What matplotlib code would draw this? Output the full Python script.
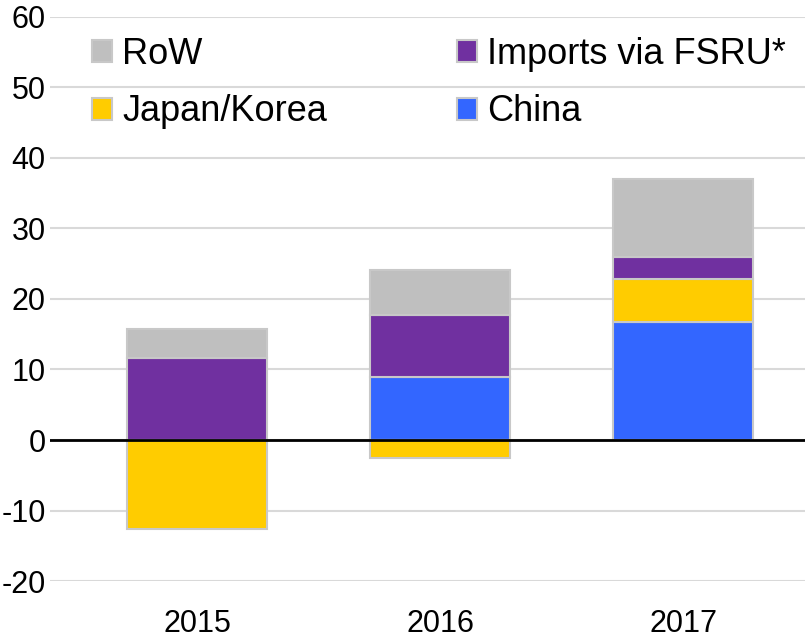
import matplotlib.pyplot as plt
import numpy as np
from matplotlib.patches import Patch

# -----------------------------------------------------------------------------
# Data
# -----------------------------------------------------------------------------

YEARS = ["2015", "2016", "2017"]

china = [0.0, 8.9, 16.7]
japan_korea = [-12.6, -2.6, 6.2]
fsru = [11.7, 8.8, 3.1]
row = [4.0, 6.4, 11.0]

SERIES = [
    ("China", china, "#3366FF"),
    ("Japan/Korea", japan_korea, "#FFCC00"),
    ("Imports via FSRU*", fsru, "#7030A0"),
    ("RoW", row, "#BFBFBF"),
]

EDGE = "#C8C8C8"
TICK_SIZE = 22
LEGEND_SIZE = 26

plt.rcParams["axes.unicode_minus"] = False
plt.rcParams["font.family"] = ["Liberation Sans", "DejaVu Sans"]

# -----------------------------------------------------------------------------
# Plot
# -----------------------------------------------------------------------------

fig = plt.figure(figsize=(8.05, 6.43), dpi=100)
ax = fig.add_axes([0.062, 0.0964, 0.938, 0.8772])

x = np.arange(len(YEARS))
pos_bottom = np.zeros(len(YEARS))
neg_bottom = np.zeros(len(YEARS))

for name, values, color in SERIES:
    values = np.array(values)
    bottoms = np.where(values >= 0, pos_bottom, neg_bottom)
    ax.bar(
        x,
        values,
        width=0.576,
        bottom=bottoms,
        color=color,
        edgecolor=EDGE,
        linewidth=1.5,
        zorder=2,
    )
    pos_bottom = pos_bottom + np.clip(values, 0, None)
    neg_bottom = neg_bottom + np.clip(values, None, 0)

ax.axhline(0, color="black", linewidth=2, zorder=3)

ax.set_ylim(-20, 60)
ax.set_yticks(np.arange(-20, 61, 10))
ax.set_xlim(-0.605, 2.5)
ax.set_xticks(x)
ax.set_xticklabels(YEARS)

ax.grid(True, axis="y", color="#D9D9D9", linewidth=1.5, zorder=0)
ax.set_axisbelow(True)
for spine in ax.spines.values():
    spine.set_visible(False)

ax.tick_params(axis="both", length=0, labelsize=TICK_SIZE)
ax.tick_params(axis="x", pad=20)
ax.tick_params(axis="y", pad=3)

# legend: column-wise fill -> RoW, Japan/Korea | FSRU, China
handles = {
    name: Patch(facecolor=color, edgecolor=EDGE, linewidth=1.5)
    for name, _, color in SERIES
}
order = ["RoW", "Japan/Korea", "Imports via FSRU*", "China"]
ax.legend(
    [handles[n] for n in order],
    order,
    ncol=2,
    loc="upper left",
    bbox_to_anchor=(0.037, 0.99),
    frameon=False,
    fontsize=LEGEND_SIZE,
    handlelength=0.55,
    handleheight=0.55,
    handletextpad=0.28,
    columnspacing=3.6,
    labelspacing=0.62,
    borderaxespad=0,
)

fig.savefig("out.png", dpi=100)
